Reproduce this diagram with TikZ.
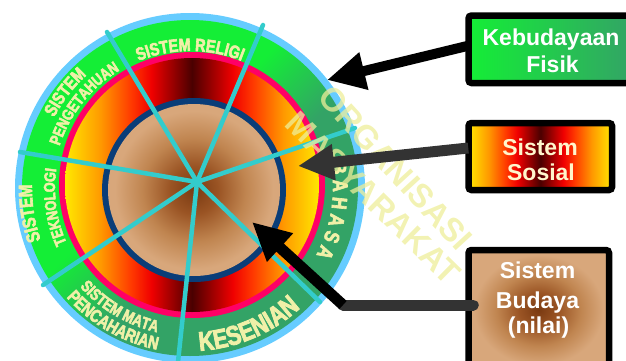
\documentclass[tikz,border=0pt]{standalone}
\usepackage{fontspec}
\usetikzlibrary{arrows.meta,decorations.text,calc}
\newfontfamily\ringfont{Liberation Sans Bold}[FakeStretch=0.8,FakeBold=3]
\newfontfamily\boxfont{Liberation Sans}
\newfontfamily\ovlfont{Liberation Sans Bold}
\definecolor{ltblue}{HTML}{66CCFF}
\definecolor{gbright}{HTML}{14EE36}
\definecolor{gdark}{HTML}{33A366}
\definecolor{pinkr}{HTML}{FF0066}
\definecolor{dblue}{HTML}{0A3D78}
\definecolor{spokec}{HTML}{33CCCC}
\definecolor{ringtxt}{HTML}{F0F0A8}
\definecolor{ovl}{HTML}{EEEE99}
\definecolor{fyel}{HTML}{FFE800}
\definecolor{forg}{HTML}{FF9900}
\definecolor{fredo}{HTML}{FF3A00}
\definecolor{fred}{HTML}{F00000}
\definecolor{fmar}{HTML}{4A0000}
\definecolor{tanc}{HTML}{D8A77B}
\definecolor{tanm}{HTML}{C08550}
\definecolor{tanb}{HTML}{9A5424}
\definecolor{brownc}{HTML}{7A3A12}
\definecolor{darkarrow}{HTML}{333333}
\definecolor{cream}{HTML}{FFF6CC}
\pgfdeclarehorizontalshading{fire}{100bp}{color(0bp)=(fyel); color(25bp)=(fyel); color(32bp)=(forg); color(38bp)=(fredo); color(42bp)=(fred); color(50bp)=(fmar); color(58bp)=(fred); color(62bp)=(fredo); color(68bp)=(forg); color(75bp)=(fyel); color(100bp)=(fyel)}
\pgfdeclareverticalshading{greenring}{100bp}{color(0bp)=(gdark); color(44bp)=(gdark); color(56bp)=(gbright); color(100bp)=(gbright)}
\pgfdeclareradialshading{tanshade}{\pgfpoint{0bp}{0bp}}{color(0bp)=(brownc); color(7bp)=(tanb); color(15bp)=(tanm); color(23bp)=(tanc); color(50bp)=(tanc)}
\newcommand\rtfmt{\ringfont\color{ringtxt}}
\newcommand\rsA{\rtfmt\fontsize{18}{18}\selectfont}
\newcommand\rsB{\rtfmt\fontsize{16}{16}\selectfont}
\newcommand\rsC{\rtfmt\fontsize{19}{19}\selectfont}
\newcommand\rsD{\rtfmt\fontsize{16.5}{16.5}\selectfont}
\newcommand\rsE{\rtfmt\fontsize{27}{27}\selectfont}
\newcommand\rsF{\rtfmt\fontsize{21}{21}\selectfont}
\begin{document}
\begin{tikzpicture}[x=1pt,y=1pt,
  spokeline/.style={spokec,line width=4.5,line cap=round},
  boxstyle/.style={draw=black,line width=6.5,rounded corners=3pt,inner sep=0pt},
  boxtxt/.style={anchor=base,font=\boxfont\bfseries\fontsize{23}{23}\selectfont,inner sep=0pt},
  ovltxt/.style={font=\ovlfont\fontsize{33}{33}\selectfont,text=ovl,text opacity=0.75,inner sep=0pt}]
\useasboundingbox (0,0) rectangle (626,360);
% rings
\coordinate (O) at (190,172);
\fill[ltblue] (O) circle (175);
\shade[shading=greenring,shading angle=45] (O) circle (168);
\fill[pinkr] (192,175) circle (133);
\shade[shading=fire] (192,175) circle (127);
\fill[dblue] (194,170) circle (92);
\shade[shading=tanshade] (194,170) circle (86);
% spokes
\coordinate (hub) at (197,178);
\coordinate (s1) at (107,328);
\coordinate (s2) at (263,335);
\coordinate (s3) at (355,232);
\coordinate (s4) at (320,58);
\coordinate (s5) at (178,-2);
\coordinate (s6) at (43,75);
\coordinate (s7) at (20,208);
\foreach \i in {1,...,7} \draw[spokeline] (hub) -- (s\i);
% ring texts
\path[decorate,decoration={text along path,text={|\rsA|SISTEM RELIGI},text align=center}]
  ($(O)+(135:137)$) arc[start angle=135,end angle=45,radius=137];
\path[decorate,decoration={text along path,text={|\rsA|SISTEM},text align=center}]
  ($(O)+(175:153)$) arc[start angle=175,end angle=110,radius=153];
\path[decorate,decoration={text along path,text={|\rsB|PENGETAHUAN},text align=center}]
  ($(O)+(175:137)$) arc[start angle=175,end angle=108,radius=137];
\path[decorate,decoration={text along path,text={|\rsC|SISTEM},text align=center}]
  ($(O)+(214:158)$) arc[start angle=214,end angle=164,radius=158];
\path[decorate,decoration={text along path,text={|\rsB|TEKNOLOGI},text align=center}]
  ($(O)+(213:135)$) arc[start angle=213,end angle=163,radius=135];
\path[decorate,decoration={text along path,text={|\rsD|SISTEM MATA},text align=center}]
  ($(O)+(214:148)$) arc[start angle=214,end angle=265,radius=148];
\path[decorate,decoration={text along path,text={|\rsA|PENCAHARIAN},text align=center}]
  ($(O)+(215:165)$) arc[start angle=215,end angle=265,radius=165];
\path[decorate,decoration={text along path,text={|\rsE|KESENIAN},text align=center}]
  ($(O)+(262:163)$) arc[start angle=262,end angle=324,radius=163];
\path[decorate,decoration={text along path,text={|\rsF|BAHASA},text align={fit to path}}]
  ($(O)+(10:143)$) arc[start angle=10,end angle=-28,radius=143];
% overlay text
\node[ovltxt,rotate=-47.5] (org1) at (395,192) {ORGANISASI};
\node[ovltxt,rotate=-44.5] (org2) at (373,162) {MASYARAKAT};
% boxes
\node[boxstyle,left color=gbright,right color=gdark,minimum width=165.5,minimum height=67.5] (box1) at (551.25,310.75) {};
\node[boxstyle,shading=fire,minimum width=143.5,minimum height=67] (box2) at (540.25,203.5) {};
\node[boxstyle,shading=tanshade,minimum width=140.5,minimum height=120] (box3) at (538.75,50) {};
\node[boxtxt,text=white] (b1a) at (551,315) {Kebudayaan};
\node[boxtxt,text=white] (b1b) at (552.5,288) {Fisik};
\node[boxtxt,text=cream] (b2a) at (540,205) {Sistem};
\node[boxtxt,text=cream] (b2b) at (541,180) {Sosial};
\node[boxtxt,text=white] (b3a) at (537.5,82) {Sistem};
\node[boxtxt,text=white] (b3b) at (537.5,52) {Budaya};
\node[boxtxt,text=white] (b3c) at (538.5,27) {(nilai)};
% arrows
\coordinate (t1) at (327,280);
\coordinate (t2) at (298,194);
\coordinate (bend3) at (343,55);
\coordinate (t3) at (252,138);
\draw[black,line width=10,-{Triangle[length=38pt,width=36pt]}] ([xshift=5pt,yshift=4pt]box1.west) -- (t1);
\draw[darkarrow,line width=11,-{Triangle[length=36pt,width=34pt]}] ([xshift=3pt,yshift=8.5pt]box2.west) -- (t2);
\draw[darkarrow,line width=11,line cap=round] ([xshift=8pt,yshift=5pt]box3.west) -- (bend3);
\draw[black,line width=11,-{Triangle[length=38pt,width=36pt]}] (bend3) -- (t3);
\end{tikzpicture}
\end{document}
